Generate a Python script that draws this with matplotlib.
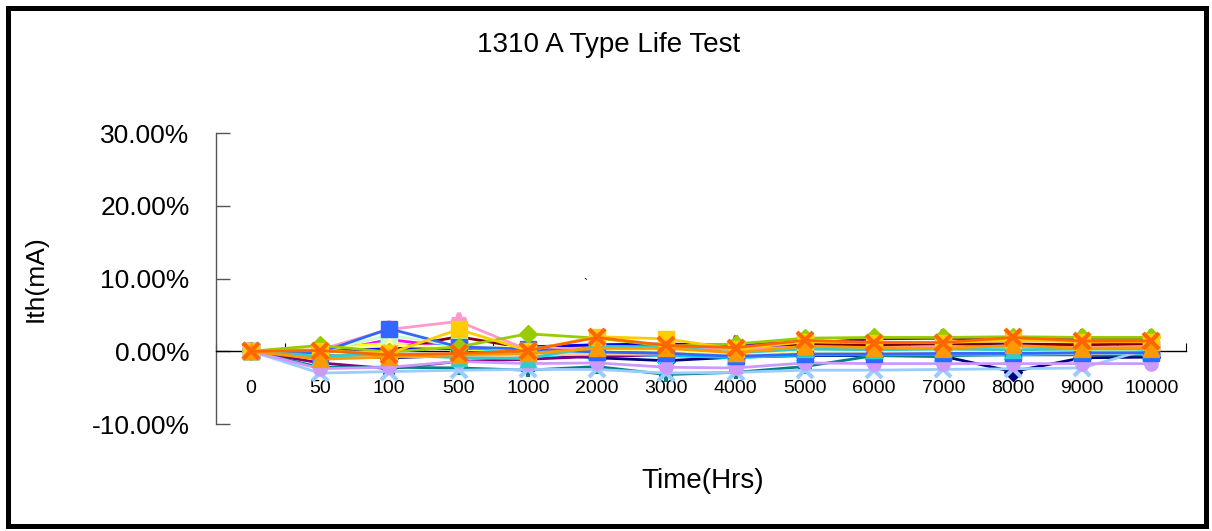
"""1310 A Type life test: Ith drift per unit over test hours."""

import matplotlib

matplotlib.use("Agg")
import matplotlib.pyplot as plt
from matplotlib.patches import Rectangle
from matplotlib.ticker import FixedLocator, FuncFormatter

plt.rcParams["font.family"] = ["Liberation Sans", "DejaVu Sans"]

HOURS = ["0", "50", "100", "500", "1000", "2000", "3000", "4000",
         "5000", "6000", "7000", "8000", "9000", "10000"]

# drift in percent, one list per unit
s01 = [0, -0.5, -0.9, -0.6, -0.3, -0.9, -1.3, -0.8, -0.6, -0.6, -0.7, -2.8, -0.9, -0.8]
s02 = [0, -0.3, 1.6, 0.5, 0.1, 0.3, 0.2, -0.2, 0.2, 0.2, 0.1, 0.2, 0.1, 0.2]
s03 = [0, 0.4, 1.1, 0.2, 0.3, 0.6, 0.4, 0.2, 0.5, 0.5, 0.6, 0.6, 0.5, 0.6]
s04 = [0, -1.0, 0.4, 0.9, -0.8, -0.2, -0.5, -0.8, -0.4, -0.3, -0.4, -0.3, -0.4, -0.3]
s05 = [0, -1.6, -2.4, -1.4, -1.1, -0.7, -0.5, 1.0, 1.1, 1.7, 1.8, 1.6, 1.8, 1.8]
s06 = [0, 0.2, 0.3, 2.0, 0.4, 0.8, 0.6, 0.4, 0.9, 0.9, 1.0, 1.0, 0.9, 1.0]
s07 = [0, -2.2, -2.2, -2.3, -2.6, -2.1, -3.2, -2.9, -2.1, -0.6, -0.6, -0.5, -0.5, -0.5]
s08 = [0, 0.2, 0.3, 0.4, 0.6, 0.9, 1.0, 0.8, 0.6, 0.6, 0.5, 0.8, 0.4, 0.5]
s09 = [0, -0.8, -0.5, -0.4, -0.6, -0.3, -0.6, -0.9, -0.5, -0.5, -0.4, -0.5, -0.3, -0.4]
s10 = [0, 0.0, 2.2, 0.8, 0.2, 0.4, 0.3, 0.1, 0.3, 0.3, 0.2, 0.3, 0.2, 0.3]
s11 = [0, 0.3, 0.8, 0.6, 0.5, 0.2, 0.1, -0.4, 0.0, 0.1, 0.0, 0.1, 0.0, 0.1]
s12 = [0, -3.0, -2.8, -2.6, -2.5, -2.5, -3.0, -2.9, -2.6, -2.6, -2.5, -2.4, -2.3, 0.4]
s13 = [0, 0.2, 3.0, 4.1, 0.2, 0.5, 0.4, 0.3, 0.6, 0.5, 0.6, 0.6, 0.5, 0.6]
s14 = [0, -2.4, -2.2, -1.4, -1.7, -1.6, -2.2, -2.3, -1.6, -1.7, -1.7, -1.7, -1.7, -1.7]
s15 = [0, -0.6, -0.7, -0.8, -0.5, -0.4, -0.3, -0.6, -0.4, -0.3, -0.3, -0.2, -0.3, -0.2]
s16 = [0, -0.2, 3.1, 0.6, 0.3, -0.1, -0.3, -0.7, -0.4, -0.4, -0.3, -0.3, -0.2, -0.2]
s17 = [0, -0.7, -0.4, -0.9, -1.0, 0.7, 0.6, -0.2, 0.3, 0.2, 0.3, 0.2, 0.3, 0.3]
s18 = [0, 0.8, -0.1, 0.6, 2.4, 1.8, 0.7, 1.0, 1.8, 1.9, 1.9, 2.0, 1.9, 1.9]
s19 = [0, 0.1, -0.3, 3.0, 0.1, 2.0, 1.7, 0.3, 1.3, 1.2, 1.2, 1.5, 1.3, 1.3]
s20 = [0, -1.1, -0.8, -0.5, -0.3, 0.4, 0.4, -0.2, 0.7, 0.5, 0.4, 0.8, 0.4, 0.5]
s21 = [0, 0.1, -0.5, -0.3, 0.1, 1.9, 0.8, 0.5, 1.5, 1.2, 1.2, 1.9, 1.4, 1.4]

SERIES = [s01, s02, s03, s04, s05, s06, s07, s08, s09, s10, s11,
          s12, s13, s14, s15, s16, s17, s18, s19, s20, s21]

COLORS = ["#000080", "#FF00FF", "#FFFF00", "#00FFFF", "#800080", "#800000",
          "#008080", "#0000FF", "#00CCFF", "#CCFFCC", "#FFFF99", "#99CCFF",
          "#FF99CC", "#CC99FF", "#FFCC99", "#3366FF", "#33CCCC", "#99CC00",
          "#FFCC00", "#FF9900", "#FF6600"]
MARKERS = ["D", "s", "^", "x", "*", "o", "+", "_", "D", "s", "^", "x",
           "*", "o", "+", "s", "^", "D", "s", "^", "x"]

fig = plt.figure(figsize=(12.12, 5.31), dpi=100)
ax = fig.add_axes([216 / 1212, 107 / 531, 970 / 1212, 291 / 531])

x = [i + 0.5 for i in range(len(HOURS))]
for values, color, marker in zip(SERIES, COLORS, MARKERS):
    thin = marker in "x+*"
    ax.plot(x, values, color=color, marker=marker, linewidth=2.0,
            markersize=11 if marker in "s^x*" else 9.5,
            markeredgewidth=3 if thin else 1,
            clip_on=False, zorder=3)

ax.set_xlim(0, len(HOURS))
ax.set_ylim(-10, 30)
ax.set_yticks([-10, 0, 10, 20, 30])
ax.yaxis.set_major_formatter(FuncFormatter(lambda v, _: f"{v:.2f}%"))

ax.spines["top"].set_visible(False)
ax.spines["right"].set_visible(False)
ax.spines["bottom"].set_position(("data", 0))
ax.spines["bottom"].set_linewidth(1.0)
ax.spines["left"].set_color("#555555")
ax.spines["left"].set_linewidth(1.0)

ax.xaxis.set_major_locator(FixedLocator(range(len(HOURS) + 1)))
ax.xaxis.set_minor_locator(FixedLocator(x))
ax.set_xticklabels([])
ax.set_xticklabels(HOURS, minor=True)
ax.tick_params(axis="x", which="major", direction="in", length=6, width=0.8)
ax.tick_params(axis="x", which="minor", length=0, pad=21, labelsize=14)
ax.tick_params(axis="y", direction="in", length=10, width=1, color="#555555",
               pad=19, labelsize=19)

fig.text(0.5025, 0.915, "1310 A Type Life Test", ha="center", va="center",
         fontsize=20)
fig.text(0.029, 0.476, "Ith(mA)", rotation=90, ha="center", va="center",
         fontsize=19)
fig.text(0.58, 0.094, "Time(Hrs)", ha="center", va="center", fontsize=20)
fig.text(585 / 1212, 1 - 285 / 531, "`", ha="center", va="center", fontsize=9)

fig.add_artist(Rectangle((7.5 / 1212, 5.5 / 531), 1198 / 1212, 518 / 531,
                         transform=fig.transFigure, fill=False,
                         edgecolor="black", linewidth=3.6))

fig.savefig("out.png", dpi=100)
